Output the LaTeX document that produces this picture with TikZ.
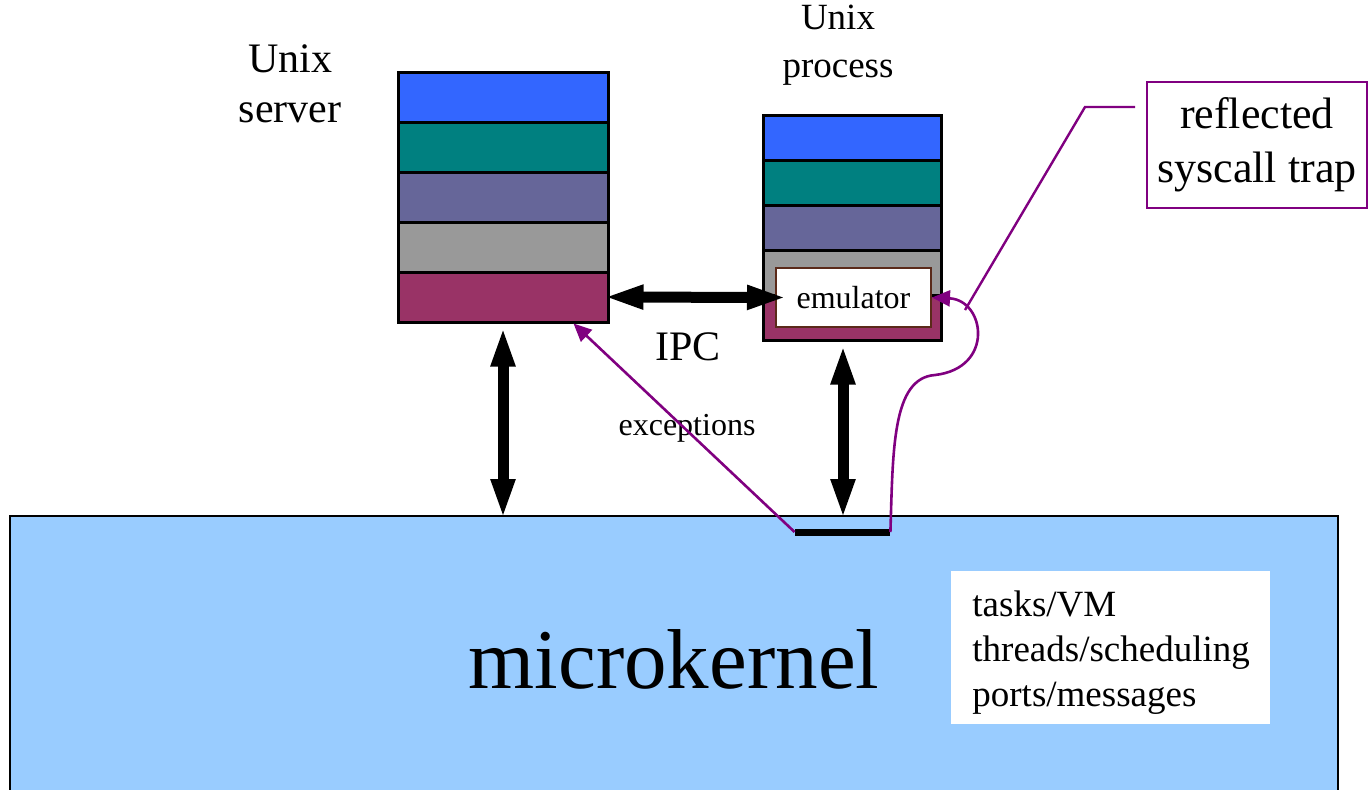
\documentclass[tikz,border=0pt]{standalone}
\usepackage{fontspec}
\setmainfont{Liberation Serif}
\usetikzlibrary{arrows.meta}
\definecolor{lblue}{HTML}{3366FF}
\definecolor{lteal}{HTML}{008080}
\definecolor{lslate}{HTML}{666699}
\definecolor{lgrey}{HTML}{999999}
\definecolor{lmaroon}{HTML}{993366}
\definecolor{kblue}{HTML}{99CCFF}
\definecolor{cpurple}{HTML}{800080}
\definecolor{embrown}{HTML}{5A2A1A}
\tikzset{
  srvlayer/.style={draw=black, line width=1.5pt, minimum width=105pt, minimum height=25pt, inner sep=0pt},
  proclayer/.style={draw=black, line width=1.5pt, minimum width=89pt, minimum height=22.5pt, inner sep=0pt},
  bigarrow/.style={line width=5.5pt, {Triangle[length=20pt,width=11pt]}-{Triangle[length=20pt,width=11pt]}},
  purplearrow/.style={draw=cpurple, line width=1.3pt, -{Triangle[length=9pt,width=8pt]}},
  purpleline/.style={draw=cpurple, line width=1.2pt},
  lbl/.style={inner sep=0pt, align=center}
}
\begin{document}
\begin{tikzpicture}[x=0.5pt,y=-0.5pt]
\useasboundingbox (0,0) rectangle (1371,789);
% microkernel
\node[draw=black, line width=1pt, fill=kblue, minimum width=664pt, minimum height=139.5pt, inner sep=0pt] (kernel) at (674,655.5) {};
\node[anchor=base, inner sep=0pt, font=\fontsize{42.5}{48}\selectfont] (ktext) at (674,688) {microkernel};
\node[fill=white, minimum width=159.5pt, minimum height=76.5pt, inner sep=0pt] (infobox) at (1110.5,647.5) {};
\node[anchor=west, align=left, inner sep=0pt, font=\fontsize{18.5}{22.5}\selectfont] (infotext) at (972,653) {tasks/VM\\threads/scheduling\\ports/messages};
% server stack
\node[srvlayer, fill=lblue] (s1) at (503,97.5) {};
\node[srvlayer, fill=lteal] (s2) at (503,147) {};
\node[srvlayer, fill=lslate] (s3) at (503,197) {};
\node[srvlayer, fill=lgrey] (s4) at (503,247) {};
\node[srvlayer, fill=lmaroon] (s5) at (503,297) {};
% process stack
\node[proclayer, fill=lblue] (p1) at (852,138) {};
\node[proclayer, fill=lteal] (p2) at (852,182.5) {};
\node[proclayer, fill=lslate] (p3) at (852,227.5) {};
\node[proclayer, fill=lgrey] (p4) at (852,272.5) {};
\node[proclayer, fill=lmaroon] (p5) at (852,317.5) {};
\node[draw=embrown, line width=1pt, fill=white, minimum width=77.5pt, minimum height=29.5pt, inner sep=0pt, font=\fontsize{16}{19}\selectfont] (emu) at (853.5,297.5) {emulator};
% labels
\node[lbl, font=\fontsize{21}{25}\selectfont] (srvlabel) at (290,84) {Unix\\server};
\node[lbl, font=\fontsize{18.5}{24}\selectfont] (proclabel) at (838,45) {Unix\\process};
\node[lbl, font=\fontsize{21}{25}\selectfont] (ipc) at (688,347) {IPC};
\node[lbl, font=\fontsize{16}{19}\selectfont] (exc) at (687,428) {exceptions};
\node[draw=cpurple, line width=1pt, minimum width=110pt, minimum height=63pt, inner sep=0pt, align=center, font=\fontsize{22}{27}\selectfont] (callout) at (1257,145) {reflected\\syscall trap};
% trap bar
\node[fill=black, minimum width=47.5pt, minimum height=3.5pt, inner sep=0pt] (bar) at (842.5,532) {};
% arrows
\coordinate (ipcl) at ([xshift=-3pt]s5.east);
\coordinate (ipcr) at ([xshift=6pt]emu.west);
\draw[bigarrow] (ipcl) -- (ipcr);
\coordinate (stop) at ([yshift=-1.5pt]s5.south);
\coordinate (sbot) at ([yshift=-2pt]s5.south |- kernel.north);
\draw[bigarrow] (stop) -- (sbot);
\coordinate (pbot) at ([xshift=-4.5pt,yshift=-1.5pt]p5.south);
\coordinate (ktop) at ([yshift=-2pt]pbot |- kernel.north);
\draw[bigarrow] (pbot) -- (ktop);
\coordinate (exctip) at ([xshift=-18pt]s5.south east);
\draw[purplearrow] (bar.west) -- (exctip);
\draw[purplearrow] (bar.east) .. controls (893,450) and (892,378) .. (935,375) .. controls (995,368) and (985,300) .. (emu.east);
\coordinate (c1) at (965,310);
\coordinate (c2) at (1085,107);
\coordinate (c3) at (1135,107);
\draw[purpleline] (c1) -- (c2) -- (c3);
\end{tikzpicture}
\end{document}
